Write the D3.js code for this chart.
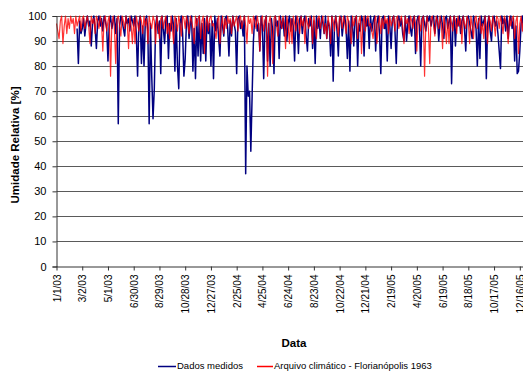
<!DOCTYPE html>
<html>
<head>
<meta charset="utf-8">
<script src="https://cdn.jsdelivr.net/npm/d3@7"></script>
<style>
  html, body { margin: 0; padding: 0; background: #fff; }
  svg { display: block; }
  text { font-family: "Liberation Sans", Arial, sans-serif; fill: #000; }
</style>
</head>
<body>
<svg id="chart" width="523" height="371"></svg>
<script>
// Relative humidity, sampled every 3 days from 1 Jan 2003
const startDate = "1/1/03";
const stepDays = 3;

// Measured values (%), null where no measurement exists
const measured = [
  null,null,null,null,null,null,null,null,null,null,null,null,null,null,null,null,95,81,98,93,
  95,99,92,97,100,96,98,88,97,100,95,87,98,100,96,99,94,100,98,95,
  82,97,100,95,98,100,93,99,57,96,100,98,95,92,100,97,99,94,100,98,
  96,100,93,76,97,100,81,96,80,98,100,94,57,97,76,59,71,96,100,93,
  98,77,100,95,89,99,100,83,97,94,100,96,78,99,80,71,97,100,93,76,
  83,98,100,91,97,100,78,95,75,99,84,100,82,97,85,99,82,100,93,97,
  80,98,75,100,94,99,91,84,100,96,92,99,100,95,84,98,92,100,97,94,
  77,99,100,95,98,92,100,37,80,68,70,46,68,90,99,100,94,97,86,100,
  96,75,98,100,82,97,80,99,94,77,100,96,98,83,100,95,99,92,100,90,
  97,100,94,99,96,82,100,97,85,99,100,93,98,100,92,86,99,96,100,87,
  98,81,100,95,99,91,100,97,93,100,91,98,96,84,100,74,97,100,94,84,
  99,100,92,97,100,95,83,98,78,100,96,88,99,100,80,97,94,100,98,84,
  100,96,99,87,100,94,98,100,86,97,100,93,77,99,100,95,98,82,100,96,
  87,99,100,94,81,98,100,96,99,93,90,100,90,97,100,95,92,99,100,85,
  98,100,96,80,99,100,97,94,100,98,100,96,99,100,93,98,100,90,97,100,
  96,91,99,100,95,98,100,73,97,100,88,99,96,100,93,98,100,95,86,99,
  100,97,94,91,100,98,95,80,99,83,100,96,98,100,75,97,100,94,90,99,
  100,96,98,93,86,79,100,97,99,94,100,91,98,100,95,99,82,96,77,78,
  86,97,100,93,98
];

// Climate file year (Florianópolis 1963), one value per 3 days of the year
const climateYear = [
  97,94,91,98,100,89,96,100,93,99,95,100,97,99,93,100,96,98,100,94,
  99,100,95,98,100,96,89,100,97,99,93,100,98,95,100,97,86,99,100,94,
  98,100,76,97,100,95,81,99,100,96,92,100,98,95,100,97,87,100,96,89,
  99,89,100,97,94,100,98,93,100,96,99,89,100,97,95,100,98,89,100,96,
  91,99,100,95,98,100,93,97,91,100,96,89,100,98,94,100,97,92,100,99,
  95,100,97,93,100,98,95,89,100,96,99,100,91,98,100,85,97,100,94,99,
  100,96
];

const xTickLabels = ["1/1/03","3/2/03","5/1/03","6/30/03","8/29/03","10/28/03","12/27/03",
  "2/25/04","4/25/04","6/24/04","8/23/04","10/22/04","12/21/04","2/19/05","4/20/05",
  "6/19/05","8/18/05","10/17/05","12/16/05"];
const yTicks = [0,10,20,30,40,50,60,70,80,90,100];

const seriesNames = ["Dados medidos", "Arquivo climático - Florianópolis 1963"];
const seriesColors = ["#000080", "#ff0000"];

const parse = d3.utcParse("%m/%d/%y");
const t0 = parse(startDate);

const measuredPts = measured.map((v, i) => ({ date: d3.utcDay.offset(t0, i * stepDays), v }));
const climatePts = measured.map((_, i) => {
  const date = d3.utcDay.offset(t0, i * stepDays);
  const doy = d3.utcDay.count(d3.utcYear.floor(date), date);
  return { date, v: climateYear[Math.min(Math.floor(doy / stepDays), climateYear.length - 1)] };
});

const svg = d3.select("#chart");
const plotLeft = 56.5, plotRight = 519.8, plotTop = 16, plotBottom = 266.5;

const x = d3.scaleUtc()
  .domain([parse(xTickLabels[0]), parse(xTickLabels[xTickLabels.length - 1])])
  .range([plotLeft, plotRight]);
const y = d3.scaleLinear().domain([0, 100]).range([plotBottom, plotTop]);

// horizontal gridlines
svg.append("g")
  .selectAll("line")
  .data(yTicks.filter(d => d > 0))
  .join("line")
  .attr("x1", plotLeft).attr("x2", 523)
  .attr("y1", d => Math.round(y(d)) + 0.5).attr("y2", d => Math.round(y(d)) + 0.5)
  .attr("stroke", "#5a5a5a").attr("stroke-width", 1);

// series lines
const line = d3.line()
  .defined(d => d.v != null)
  .x(d => x(d.date))
  .y(d => y(d.v));

const plot = svg.append("g");
plot.append("path")
  .datum(measuredPts)
  .attr("d", line)
  .attr("fill", "none")
  .attr("stroke", seriesColors[0])
  .attr("stroke-width", 1.5)
  .attr("stroke-linejoin", "round");
plot.append("path")
  .datum(climatePts)
  .attr("d", line)
  .attr("fill", "none")
  .attr("stroke", seriesColors[1])
  .attr("stroke-width", 1.2)
  .attr("stroke-opacity", 0.8)
  .attr("stroke-linejoin", "round");

// y axis
const yAxis = d3.axisLeft(y).tickValues(yTicks).tickSize(4).tickPadding(6);
const gy = svg.append("g").attr("transform", `translate(${plotLeft},0)`).call(yAxis);
gy.select(".domain").attr("stroke", "#333");
gy.selectAll(".tick line").attr("stroke", "#333");
gy.selectAll(".tick text").style("font-size", "11px").style("font-family", "'Liberation Sans', Arial, sans-serif").attr("fill", "#000");

// x axis
const xAxis = d3.axisBottom(x)
  .tickValues(xTickLabels.map(parse))
  .tickFormat((d, i) => xTickLabels[i])
  .tickSize(4).tickSizeOuter(0);
const gx = svg.append("g").attr("transform", `translate(0,${plotBottom})`).call(xAxis);
gx.select(".domain").attr("stroke", "#333").attr("d", `M${plotLeft},0.5H523`);
gx.selectAll(".tick line").attr("stroke", "#333");
gx.selectAll(".tick text")
  .style("font-size", "10px")
  .style("font-family", "'Liberation Sans', Arial, sans-serif")
  .attr("fill", "#000")
  .attr("text-anchor", "end")
  .attr("transform", "rotate(-90)")
  .attr("x", -8)
  .attr("y", 0)
  .attr("dy", "0.35em");

// axis titles
svg.append("text")
  .attr("x", 294).attr("y", 347)
  .attr("text-anchor", "middle")
  .style("font-size", "11.5px").style("font-weight", "bold")
  .text("Data");
svg.append("text")
  .attr("transform", "translate(19,145) rotate(-90)")
  .attr("text-anchor", "middle")
  .style("font-size", "11.5px").style("font-weight", "bold")
  .text("Umidade Relativa [%]");

// legend
const legendItems = [
  { name: seriesNames[0], color: seriesColors[0], x1: 158, x2: 176 },
  { name: seriesNames[1], color: seriesColors[1], x1: 257, x2: 273 }
];
const lg = svg.append("g");
legendItems.forEach(it => {
  lg.append("line")
    .attr("x1", it.x1).attr("x2", it.x2)
    .attr("y1", 366.5).attr("y2", 366.5)
    .attr("stroke", it.color).attr("stroke-width", 1.5);
  lg.append("text")
    .attr("x", it.x2 + 1).attr("y", 369)
    .style("font-size", "9.5px")
    .text(it.name);
});
</script>
</body>
</html>
